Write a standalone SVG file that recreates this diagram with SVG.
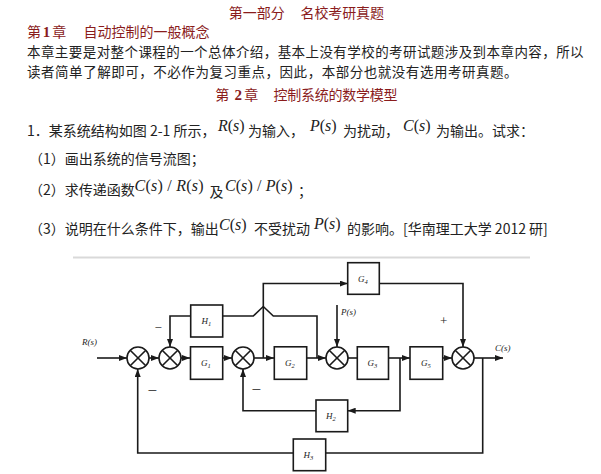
<svg xmlns="http://www.w3.org/2000/svg" width="601" height="474" viewBox="0 0 601 474">
<style>
.hd{font-family:"Noto Sans CJK SC","Noto Sans",sans-serif;font-size:14px;fill:#8a1c1c}
.hdn{font-family:"Liberation Serif",serif;font-size:15px;font-weight:bold;fill:#8a1c1c}
.tx{font-family:"Noto Sans CJK SC","Noto Sans",sans-serif;font-size:14px;fill:#222}
.tb{font-family:"Noto Sans CJK SC","Noto Sans",sans-serif;font-size:13.5px;fill:#222}
.m{font-family:"Liberation Serif",serif;font-size:16px;fill:#222}
.i{font-style:italic}
.ln{fill:none;stroke:#1a1a1a;stroke-width:1.6}
.bx{fill:#fff;stroke:#1a1a1a;stroke-width:1.6}
.sm{fill:#fff;stroke:#1a1a1a;stroke-width:1.6}
.lb{font-family:"Liberation Serif",serif;font-size:9px;font-style:italic;fill:#222}
.sub{font-size:6.5px}
.sg{font-family:"Liberation Serif",serif;font-size:13px;fill:#222}
.sgw{font-family:"Liberation Serif",serif;font-size:17px;fill:#222}
.a{marker-end:url(#arr)}
</style>
<defs>
<marker id="arr" markerWidth="8" markerHeight="6" refX="8" refY="3" orient="auto" markerUnits="userSpaceOnUse">
<path d="M0,0 L8,3 L0,6 z" fill="#1a1a1a"/>
</marker>
<g id="x">
<circle class="sm" cx="0" cy="0" r="11"/>
<path class="ln" d="M-7.8,-7.8 L7.8,7.8 M7.8,-7.8 L-7.8,7.8"/>
</g>
</defs>
<rect width="601" height="474" fill="#fff"/>

<g id="text">
<text class="hd" x="228.8" y="17.5">第一部分</text>
<text class="hd" x="300.5" y="17.5" textLength="83.4">名校考研真题</text>
<text class="hd" x="27" y="37">第</text>
<text class="hdn" x="42.7" y="37">1</text>
<text class="hd" x="52.3" y="37">章</text>
<text class="hd" x="83.4" y="37" textLength="126">自动控制的一般概念</text>
<text class="tb" x="27" y="57" textLength="556.6">本章主要是对整个课程的一个总体介绍，基本上没有学校的考研试题涉及到本章内容，所以</text>
<text class="tb" x="27" y="76.8" textLength="490.6">读者简单了解即可，不必作为复习重点，因此，本部分也就没有选用考研真题。</text>
<text class="hd" x="215.2" y="99.5">第</text>
<text class="hdn" x="234.6" y="99.5">2</text>
<text class="hd" x="244.3" y="99.5">章</text>
<text class="hd" x="273.4" y="99.5" textLength="124">控制系统的数学模型</text>

<text class="tx" x="27" y="136">1．某系统结构如图 2-1 所示，</text>
<text class="m" x="218" y="130.5"><tspan class="i">R</tspan>(<tspan class="i">s</tspan>)</text>
<text class="tx" x="248" y="136">为输入，</text>
<text class="m" x="310" y="130.5"><tspan class="i">P</tspan>(<tspan class="i">s</tspan>)</text>
<text class="tx" x="343" y="136">为扰动，</text>
<text class="m" x="403" y="130.5"><tspan class="i">C</tspan>(<tspan class="i">s</tspan>)</text>
<text class="tx" x="436" y="136">为输出。试求：</text>

<text class="tx" x="29" y="163.5">（1）画出系统的信号流图；</text>

<text class="tx" x="29" y="194.5">（2）求传递函数</text>
<text class="m" x="134.5" y="190.5" textLength="69"><tspan class="i">C</tspan>(<tspan class="i">s</tspan>) / <tspan class="i">R</tspan>(<tspan class="i">s</tspan>)</text>
<text class="tx" x="209.4" y="197">及</text>
<text class="m" x="224.9" y="190.5" textLength="67.8"><tspan class="i">C</tspan>(<tspan class="i">s</tspan>) / <tspan class="i">P</tspan>(<tspan class="i">s</tspan>)</text>
<text class="tx" x="298" y="196">；</text>

<text class="tx" x="29" y="233.5">（3）说明在什么条件下，输出</text>
<text class="m" x="219" y="230"><tspan class="i">C</tspan>(<tspan class="i">s</tspan>)</text>
<text class="tx" x="254" y="233.5">不受扰动</text>
<text class="m" x="314" y="229"><tspan class="i">P</tspan>(<tspan class="i">s</tspan>)</text>
<text class="tx" x="347" y="233.5">的影响。[华南理工大学 2012 研]</text>
</g>

<line x1="73" y1="257.5" x2="530" y2="257.5" stroke="#d9d9d9" stroke-width="2"/>

<g id="connectors">
<path class="ln a" d="M97,358 H127"/>
<path class="ln a" d="M149,358 H159"/>
<path class="ln a" d="M181,358 H190"/>
<path class="ln a" d="M222.7,358 H232"/>
<path class="ln a" d="M254,358 H274"/>
<path class="ln a" d="M263.3,358 V283.5 H347.7"/>
<path class="ln a" d="M379.3,283.5 H463 V347"/>
<path class="ln a" d="M306.7,358 H326"/>
<path class="ln" d="M317,358 V316 H273.3 L263.3,306.5 L253.3,316 H222.7"/>
<path class="ln a" d="M190.7,316 H170 V347"/>
<path class="ln a" d="M337,305 V347"/>
<path class="ln" d="M348,358 H357"/>
<path class="ln a" d="M388.5,358 H410"/>
<path class="ln a" d="M400,358 V410.7 H347.7"/>
<path class="ln a" d="M316,410.7 H243 V369"/>
<path class="ln a" d="M442.7,358 H452"/>
<path class="ln a" d="M474,358 H503"/>
<path class="ln" d="M482.7,358 V453 H325.7"/>
<path class="ln a" d="M293.3,453 H137.7 V369"/>
</g>

<g id="S1"><use href="#x" x="138" y="358"/></g>
<g id="S2"><use href="#x" x="170" y="358"/></g>
<g id="S3"><use href="#x" x="243" y="358"/></g>
<g id="S4"><use href="#x" x="337" y="358"/></g>
<g id="S5"><use href="#x" x="463" y="358"/></g>

<g id="G1"><rect class="bx" x="190.5" y="346.8" width="32.2" height="32.5"/><text class="lb" x="201" y="366">G<tspan class="sub" dy="2">1</tspan></text></g>
<g id="G2"><rect class="bx" x="274.3" y="346.8" width="32.4" height="32.5"/><text class="lb" x="285" y="366">G<tspan class="sub" dy="2">2</tspan></text></g>
<g id="G3"><rect class="bx" x="357.3" y="346.8" width="31.2" height="32.5"/><text class="lb" x="367.5" y="366">G<tspan class="sub" dy="2">3</tspan></text></g>
<g id="G5"><rect class="bx" x="410" y="346.8" width="32.7" height="32.5"/><text class="lb" x="421" y="366">G<tspan class="sub" dy="2">5</tspan></text></g>
<g id="G4"><rect class="bx" x="347.7" y="262.7" width="31.6" height="31.6"/><text class="lb" x="358" y="282">G<tspan class="sub" dy="2">4</tspan></text></g>
<g id="H1"><rect class="bx" x="190.7" y="305" width="32" height="32"/><text class="lb" x="201.5" y="324">H<tspan class="sub" dy="2">1</tspan></text></g>
<g id="H2"><rect class="bx" x="316" y="400" width="31.7" height="31.7"/><text class="lb" x="326" y="419">H<tspan class="sub" dy="2">2</tspan></text></g>
<g id="H3"><rect class="bx" x="293.3" y="439" width="32.4" height="31.7"/><text class="lb" x="303.5" y="458">H<tspan class="sub" dy="2">3</tspan></text></g>

<g id="labels">
<text class="lb" x="82" y="345">R(s)</text>
<text class="lb" x="341" y="315">P(s)</text>
<text class="lb" x="495" y="350.5">C(s)</text>
<text class="sg" x="154.5" y="331.5">−</text>
<text class="sgw" x="147.5" y="395.5">−</text>
<text class="sgw" x="251.5" y="395">−</text>
<text class="sg" x="440" y="325">+</text>
</g>
</svg>
